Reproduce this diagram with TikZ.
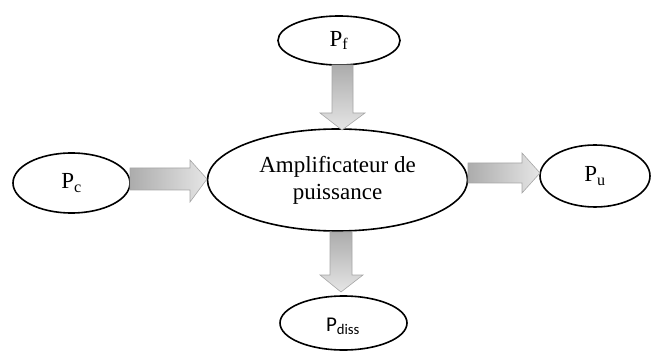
\documentclass[tikz,border=0pt]{standalone}
\usepackage{fontspec}
\setmainfont{Liberation Serif}
\newfontfamily\calib{Carlito}
\usetikzlibrary{shapes.geometric}
\tikzset{
  ell/.style={draw=black, line width=1.6pt, fill=white, ellipse, inner sep=0pt},
  lbl/.style={font=\fontsize{23}{27}\selectfont, align=center},
  blockarrow/.style={draw=gray!70, line width=0.6pt, line join=miter},
}
\begin{document}
\begin{tikzpicture}[x=1pt,y=-1pt]
\useasboundingbox (0,0) rectangle (652,352);
% ellipses
\node[ell, minimum width=122, minimum height=49] (pf) at (339,40.5) {};
\node[ell, minimum width=260, minimum height=102] (amp) at (337.5,180) {};
\node[ell, minimum width=117, minimum height=60] (pc) at (71.5,183) {};
\node[ell, minimum width=110, minimum height=62] (pu) at (595,176) {};
\node[ell, minimum width=127, minimum height=54] (pd) at (343.5,323) {};
% labels
\node[lbl] (tpf) at (pf) {P\textsubscript{f}};
\node[lbl] (tamp) at (amp) {Amplificateur de\\puissance};
\node[lbl] (tpc) at (pc) {P\textsubscript{c}};
\node[lbl] (tpu) at (pu) {P\textsubscript{u}};
\node[font=\calib\fontsize{21}{25}\selectfont, anchor=base, inner sep=0pt] (tpd) at (343,331) {P\textsubscript{diss}};
% block arrows
\shade[blockarrow, top color=gray!65, bottom color=gray!20]
  (332,65) -- (353,65) -- (353,113) -- (365,113) -- (342,130) -- (320,113) -- (332,113) -- cycle;
\shade[blockarrow, top color=gray!65, bottom color=gray!20]
  (330,232) -- (352,232) -- (352,275) -- (363,275) -- (341,292) -- (320,275) -- (330,275) -- cycle;
\shade[blockarrow, left color=gray!65, right color=gray!20]
  (130,168) -- (190,168) -- (190,160) -- (207,179) -- (190,202) -- (190,190) -- (130,190) -- cycle;
\shade[blockarrow, left color=gray!65, right color=gray!20]
  (468,163) -- (522,163) -- (522,153) -- (540,173) -- (522,193) -- (522,183) -- (468,183) -- cycle;
\end{tikzpicture}
\end{document}
